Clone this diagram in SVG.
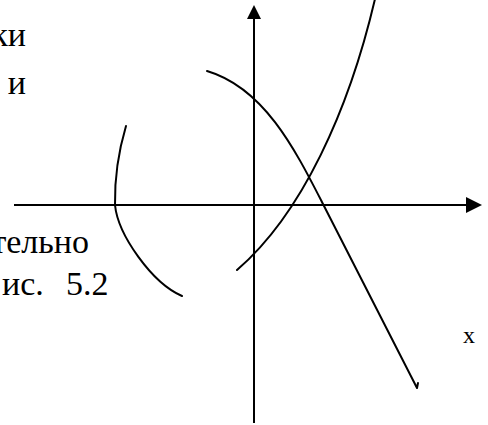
<svg xmlns="http://www.w3.org/2000/svg" width="488" height="425" viewBox="0 0 488 425">
<style>
.t{font-family:"Liberation Serif","Times New Roman",serif;fill:#000}
.body{font-size:34px}
.lbl{font-size:24px}
.ax{stroke:#000;stroke-width:2;fill:none}
.cv{stroke:#000;stroke-width:2;fill:none;stroke-linecap:round;stroke-linejoin:round}
</style>
<rect width="488" height="425" fill="#fff"/>
<g id="page-text">
<text class="t body" x="26" y="46" text-anchor="end">ки</text>
<text class="t body" x="26" y="94" text-anchor="end">и</text>
<text class="t body" x="89" y="253" text-anchor="end">тельно</text>
<text class="t body" y="295"><tspan x="2">ис.</tspan><tspan x="66">5.2</tspan></text>
</g>
<g id="axes">
<line class="ax" x1="254" y1="18" x2="254" y2="423"/>
<polygon points="254,5 247,19 261,19" fill="#000"/>
<line class="ax" x1="14" y1="205" x2="467" y2="205"/>
<polygon points="482,205 466,197 466,213" fill="#000"/>
<text class="t lbl" x="463" y="343">x</text>
</g>
<g id="curves">
<path id="curve-rising" class="cv" d="M237,270 C302,214 349,110 375,-1"/>
<path id="curve-falling" class="cv" d="M207,71 C264.5,88 295.6,150.6 323,204 L417,388 L418,383"/>
<path id="curve-left" class="cv" d="M126,126 C118,153 114.5,178 115,205 C118,235 152,283 182,296"/>
</g>
</svg>
